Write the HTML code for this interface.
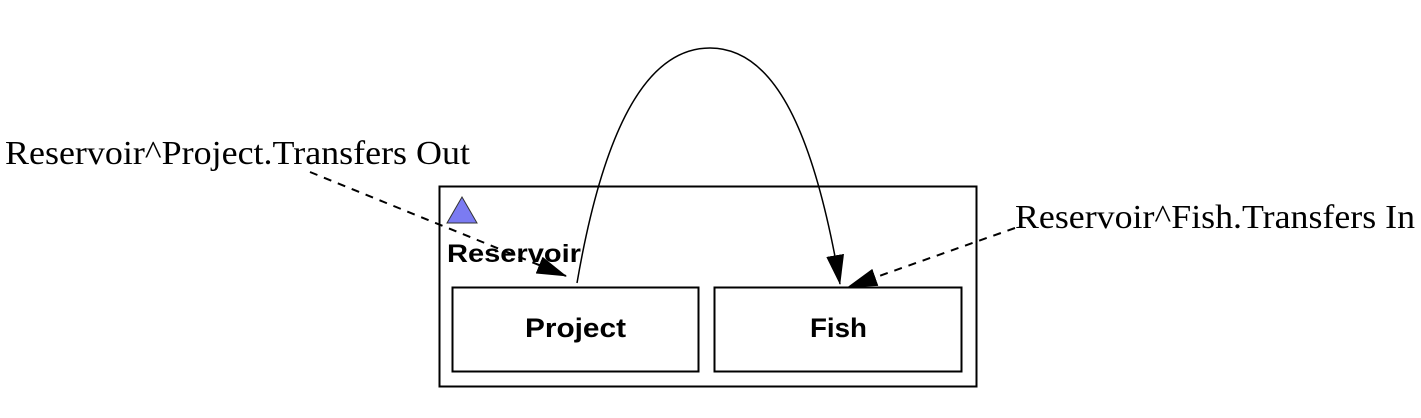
<!DOCTYPE html>
<html><head><meta charset="utf-8"><style>
html,body{margin:0;padding:0;background:#fff;width:1421px;height:418px;overflow:hidden}
</style></head><body>
<svg width="1421" height="418" viewBox="0 0 1421 418" xmlns="http://www.w3.org/2000/svg">
<defs>
<marker id="ah2" markerWidth="30" markerHeight="18" refX="29" refY="9" orient="auto" markerUnits="userSpaceOnUse">
<path d="M0,0 L30,9 L0,18 z" fill="#000"/></marker>
</defs>
<rect x="439.5" y="186.5" width="537" height="200" fill="#fff" stroke="#000" stroke-width="2"/>
<rect x="452.5" y="287.5" width="246" height="84" fill="#fff" stroke="#000" stroke-width="2"/>
<rect x="714.5" y="287.5" width="247" height="84" fill="#fff" stroke="#000" stroke-width="2"/>
<polygon points="462,197 477,223 447,223" fill="#7b7bf2" stroke="#333" stroke-width="1"/>
<text x="447" y="262" font-family="Liberation Sans, sans-serif" font-weight="bold" font-size="25" textLength="134" lengthAdjust="spacingAndGlyphs" fill="#000">Reservoir</text>
<text x="525" y="337" font-family="Liberation Sans, sans-serif" font-weight="bold" font-size="27" textLength="101" lengthAdjust="spacingAndGlyphs" fill="#000">Project</text>
<text x="810" y="337" font-family="Liberation Sans, sans-serif" font-weight="bold" font-size="27" textLength="57" lengthAdjust="spacingAndGlyphs" fill="#000">Fish</text>
<path d="M577,283 C605,120 650,48 710,48 C770,48 812,120 840,284" fill="none" stroke="#000" stroke-width="1.5" marker-end="url(#ah2)"/>
<line x1="310" y1="172" x2="566" y2="276" stroke="#000" stroke-width="2" stroke-dasharray="8,7" marker-end="url(#ah2)"/>
<line x1="1015" y1="228" x2="848" y2="287" stroke="#000" stroke-width="2" stroke-dasharray="8,7" marker-end="url(#ah2)"/>
<text x="5" y="164" font-family="Liberation Serif, serif" font-size="34" textLength="465" lengthAdjust="spacingAndGlyphs" fill="#000">Reservoir^Project.Transfers Out</text>
<text x="1015" y="228" font-family="Liberation Serif, serif" font-size="34" textLength="400" lengthAdjust="spacingAndGlyphs" fill="#000">Reservoir^Fish.Transfers In</text>
</svg>
</body></html>
